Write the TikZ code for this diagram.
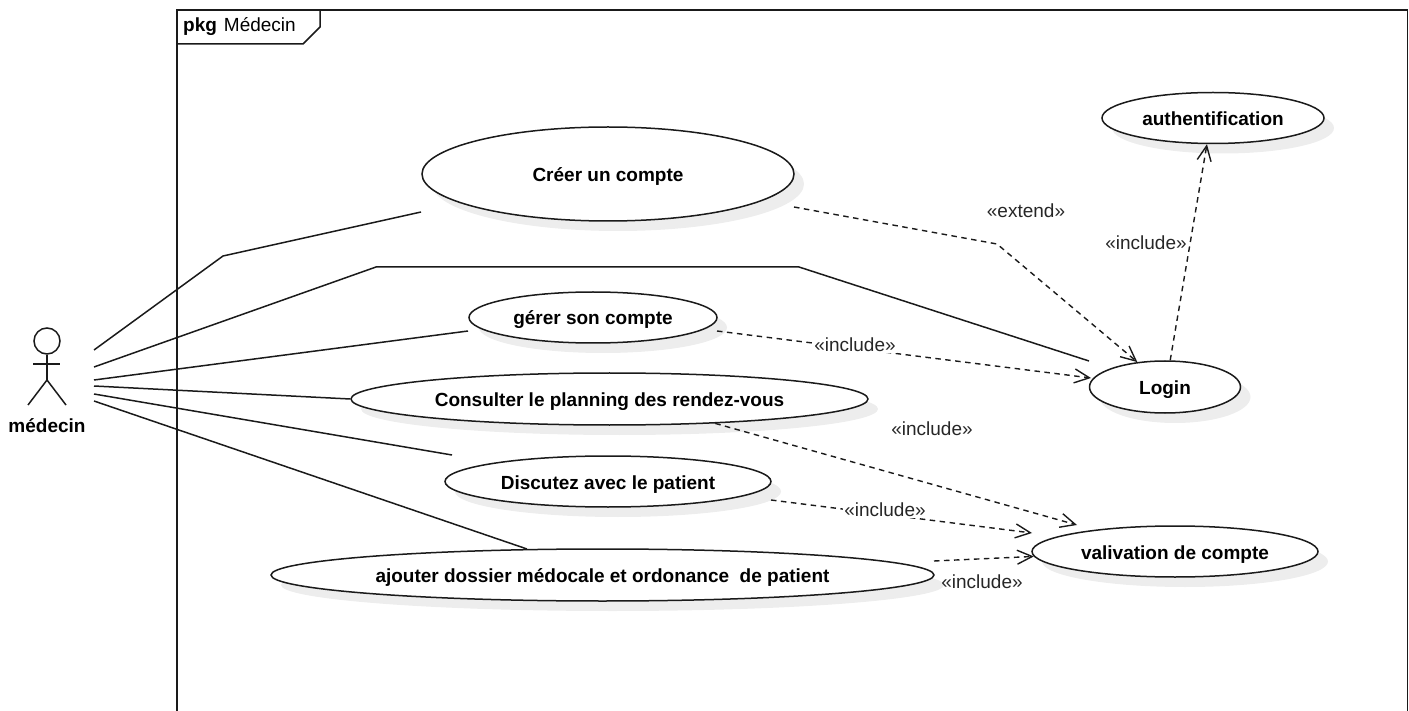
\documentclass[tikz,border=0pt]{standalone}
\usepackage{fontspec}
\setmainfont{Liberation Sans}
\usepackage[HTML]{xcolor}
\usetikzlibrary{positioning, arrows, arrows.meta, shapes.geometric, shadows}

\definecolor{ombre}{HTML}{EDEDED}
\tikzset{
  trait/.style={line width=1.5pt, draw=black!90},
  usecase/.style={ellipse, trait, fill=white, inner sep=0pt, text height=18pt, text depth=3pt,
    font=\fontsize{19}{22}\selectfont\bfseries,
    drop shadow={shadow xshift=10pt, shadow yshift=-10pt, fill=ombre, opacity=1}},
  dep/.style={trait, line width=1.4pt, dash pattern=on 5.5pt off 4.5pt, -{Straight Barb[length=15pt,width=14pt]}},
  stereo/.style={font=\fontsize{19}{22}\selectfont, text=black!85, inner sep=1pt}
}

\begin{document}
\begin{tikzpicture}[x=1pt,y=-1pt]
\useasboundingbox (0,0) rectangle (1409,711);

% Package frame
\draw[trait] (177,711) -- (177,10) -- (1407.5,10) -- (1407.5,711);
\draw[trait] (177,44) -- (303,44) -- (320,27) -- (320,10);
\node[font=\fontsize{19}{22}\selectfont, anchor=west, inner sep=0pt] (pkg) at (183,26.5) {\textbf{pkg}\hspace{7pt}Médecin};

% Actor
\node[circle, trait, minimum size=26pt, inner sep=0pt] (tete) at (47,341) {};
\coordinate (bassin) at (47,380);
\draw[trait] (tete.south) -- (bassin);
\draw[trait] (33,364) -- (60,364);
\draw[trait] (bassin) -- (28,405);
\draw[trait] (bassin) -- (66,405);
\node[font=\fontsize{19}{22}\selectfont\bfseries] (medecin) at (47,426) {médecin};

% Use cases
\node[usecase, minimum width=372pt, minimum height=94pt] (creer) at (608,174) {Créer un compte};
\node[usecase, minimum width=222pt, minimum height=51pt] (auth) at (1213,118) {authentification};
\node[usecase, minimum width=248pt, minimum height=51pt] (gerer) at (593,317.5) {gérer son compte};
\node[usecase, minimum width=151pt, minimum height=52pt] (login) at (1165,387) {Login};
\node[usecase, minimum width=517pt, minimum height=52pt] (consulter) at (609.5,399) {Consulter le planning des rendez-vous};
\node[usecase, minimum width=326pt, minimum height=51pt] (discutez) at (608,481.5) {Discutez avec le patient};
\node[usecase, minimum width=663pt, minimum height=52pt] (ajouter) at (602.5,575) {ajouter dossier médocale et ordonance\ \ de patient};
\node[usecase, minimum width=286pt, minimum height=51pt] (valivation) at (1175,551.5) {valivation de compte};

% Associations from the actor
\foreach \nom/\y in {a/350,b/367,c/380,d/386,e/394,f/401}{
  \coordinate (port\nom) at (94,\y);
}
\coordinate (creerbas) at (421,212);
\coordinate (gererbas) at (468,331);
\coordinate (discuthaut) at (452,455);
\coordinate (loginhaut) at (1089,361);
\draw[trait] (porta) -- (223,256) -- (creerbas);
\draw[trait] (portb) -- (376,267) -- (799,267) -- (loginhaut);
\draw[trait] (portc) -- (gererbas);
\draw[trait] (portd) -- (consulter.west);
\draw[trait] (porte) -- (discuthaut);
\draw[trait] (portf) -- (ajouter.161.5);

% Dependencies
\coordinate (creerout) at (794,207);
\coordinate (gererout) at (717,331);
\coordinate (discutout) at (771,500);
\coordinate (ajouterout) at (934,561);
\coordinate (loginouest) at (1091,378);
\coordinate (valhaut) at (1077,525);
\coordinate (valgauche) at (1032,533);
\draw[dep] (creerout) -- (997,244) -- (login.138);
\draw[dep] (gererout) -- (loginouest);
\draw[dep] (login.79) -- (auth.-103);
\draw[dep] (consulter.-13.2) -- (valhaut);
\draw[dep] (discutout) -- (valgauche);
\draw[dep] (ajouterout) -- (valivation.182);

% Stereotypes
\node[stereo] (extend) at (1026,211) {«extend»};
\node[stereo] (inclauth) at (1146,243) {«include»};
\node[stereo, fill=white] (inclgerer) at (855,345) {«include»};
\node[stereo] (inclconsult) at (932,429) {«include»};
\node[stereo, fill=white] (incldiscut) at (885,510) {«include»};
\node[stereo] (inclajout) at (982,582) {«include»};
\end{tikzpicture}
\end{document}
